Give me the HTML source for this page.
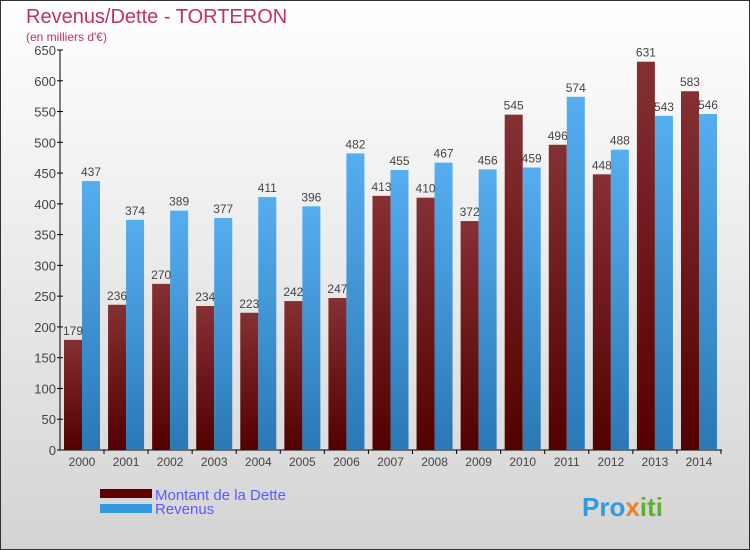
<!DOCTYPE html>
<html><head><meta charset="utf-8"><style>
body{margin:0;width:750px;height:550px;overflow:hidden}
svg{display:block;font-family:"Liberation Sans",sans-serif}
</style></head><body>
<svg width="750" height="550">
<defs>
<linearGradient id="bg" x1="0" y1="0" x2="0" y2="1"><stop offset="0" stop-color="#ffffff"/><stop offset="1" stop-color="#d4d4d4"/></linearGradient>
<linearGradient id="gd" x1="0" y1="0" x2="0" y2="1"><stop offset="0" stop-color="#853033"/><stop offset="1" stop-color="#520000"/></linearGradient>
<linearGradient id="gr" x1="0" y1="0" x2="0" y2="1"><stop offset="0" stop-color="#55aef0"/><stop offset="1" stop-color="#2a78b5"/></linearGradient>
</defs>
<rect x="0.5" y="0.5" width="749" height="549" fill="url(#bg)" stroke="#333"/>
<text x="26" y="23" font-size="20" fill="#c0306a">Revenus/Dette - TORTERON</text>
<text x="26" y="41" font-size="12" fill="#c0306a">(en milliers d'€)</text>
<g id="axes"></g>
<g id="bars"></g>
<rect x="100" y="489" width="52" height="9" fill="#5e0000"/>
<text x="155" y="500" font-size="15" fill="#5a5aff">Montant de la Dette</text>
<rect x="100" y="504" width="52" height="9" fill="#3399e0"/>
<text x="155" y="514" font-size="15" fill="#5a5aff">Revenus</text>
<text x="582" y="516" font-size="26" font-weight="bold" fill="#3399e0">Pro<tspan fill="#f08020">x</tspan><tspan fill="#60b030">iti</tspan></text>
</svg>
<script>
const years=["2000","2001","2002","2003","2004","2005","2006","2007","2008","2009","2010","2011","2012","2013","2014"];
const dette=[179,236,270,234,223,242,247,413,410,372,545,496,448,631,583];
const revenus=[437,374,389,377,411,396,482,455,467,456,459,574,488,543,546];
const ticks=[0,50,100,150,200,250,300,350,400,450,500,550,600,650];
const NS="http://www.w3.org/2000/svg";
const y0=450,yTop=50,maxV=650,x0=60,pitch=44.07;
const Y=v=>y0-(v/maxV)*(y0-yTop);
const X=i=>x0+4+i*pitch;
function mk(t,a,p){const e=document.createElementNS(NS,t);for(const k in a)e.setAttribute(k,a[k]);p.appendChild(e);return e;}
const ax=document.getElementById('axes'),bg=document.getElementById('bars');
const yl=mk('line',{x1:x0,y1:yTop,x2:x0,y2:y0,stroke:'#000'},ax);


const xl=mk('line',{x1:x0,y1:y0,x2:722,y2:y0,stroke:'#000'},ax);


ticks.forEach(t=>{
 mk('line',{x1:x0-3,y1:Y(t),x2:x0+3,y2:Y(t),stroke:'#000'},ax);
 const tx=mk('text',{x:x0-4,y:Y(t)+5,'font-size':13,fill:'#444','text-anchor':'end'},ax);
 tx.textContent=t;
 
 
});
years.forEach((yr,i)=>{
 const x=X(i);
 const b1=mk('rect',{x:x,y:Y(dette[i]),width:18,height:y0-Y(dette[i]),fill:'url(#gd)'},bg);
 
 
 const b2=mk('rect',{x:x+18,y:Y(revenus[i]),width:18,height:y0-Y(revenus[i]),fill:'url(#gr)'},bg);
 
 
 const l1=mk('text',{x:x+9,y:Y(dette[i])-5,'font-size':12,fill:'#444','text-anchor':'middle'},bg);
 l1.textContent=dette[i];
 
 
 const l2=mk('text',{x:x+27,y:Y(revenus[i])-5,'font-size':12,fill:'#444','text-anchor':'middle'},bg);
 l2.textContent=revenus[i];
 
 
 mk('line',{x1:x+40,y1:y0,x2:x+40,y2:y0+4,stroke:'#000'},ax);
 const xt=mk('text',{x:x+18,y:y0+16,'font-size':12,fill:'#444','text-anchor':'middle'},ax);
 xt.textContent=yr;
 
 
});
</script>
</body></html>
